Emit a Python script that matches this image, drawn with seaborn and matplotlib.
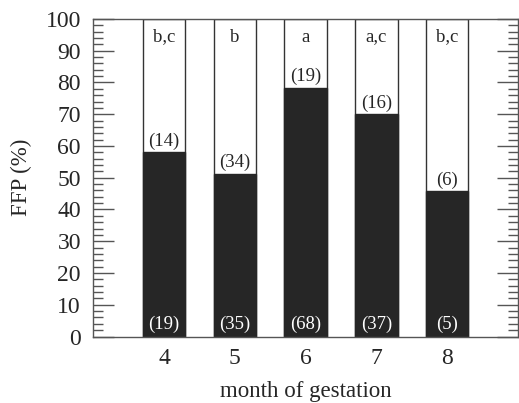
import pandas as pd
from matplotlib import pyplot as plt
from matplotlib.ticker import MultipleLocator
import seaborn as sns

months = [4, 5, 6, 7, 8]
ffp = [58.0, 51.2, 78.4, 70.0, 45.7]
n_top = ['(14)', '(34)', '(19)', '(16)', '(6)']
n_bottom = ['(19)', '(35)', '(68)', '(37)', '(5)']
letters = ['b,c', 'b', 'a', 'a,c', 'b,c']

sns.set_style('white')
plt.rcParams['font.family'] = ['Liberation Serif', 'DejaVu Serif']

df = pd.DataFrame({'month': months, 'ffp': ffp, 'total': [100] * len(months)})

fig, ax = plt.subplots(figsize=(5.19, 4.03), dpi=100)

# white background bars up to 100, black FFP part on top of them
sns.barplot(data=df, x='month', y='total', native_scale=True, width=0.6,
            color='white', edgecolor='#333333', linewidth=1, saturation=1, ax=ax)
sns.barplot(data=df, x='month', y='ffp', native_scale=True, width=0.6,
            color='#262626', edgecolor='#262626', linewidth=1, saturation=1, ax=ax)

for m, v, t, b, l in zip(months, ffp, n_top, n_bottom, letters):
    ax.text(m, v + 0.8, t, ha='center', va='bottom', fontsize=13.5)
    ax.text(m, 3.8, b, ha='center', va='center', fontsize=13.5, color='white')
    ax.text(m, 94.3, l, ha='center', va='center', fontsize=13.5)

ax.set_xlim(3, 9)
ax.set_ylim(0, 100)
ax.set_xticks(months)
ax.yaxis.set_major_locator(MultipleLocator(10))
ax.yaxis.set_minor_locator(MultipleLocator(2))
ax.tick_params(axis='y', which='major', direction='in', length=15, width=1,
               color='#555555', left=True, right=True, labelsize=17, pad=9)
ax.tick_params(axis='y', which='minor', direction='in', length=7, width=1,
               color='#555555', left=True, right=True)
ax.tick_params(axis='x', length=0, labelsize=17, pad=8)
for s in ax.spines.values():
    s.set_color('#555555')
    s.set_linewidth(1)

ax.set_xlabel('month of gestation', fontsize=16.5, labelpad=9)
ax.set_ylabel('FFP (%)', fontsize=16.5, labelpad=10)

plt.subplots_adjust(left=0.18, right=0.998, top=0.953, bottom=0.165)
plt.savefig('out.png', dpi=100)
plt.close()
